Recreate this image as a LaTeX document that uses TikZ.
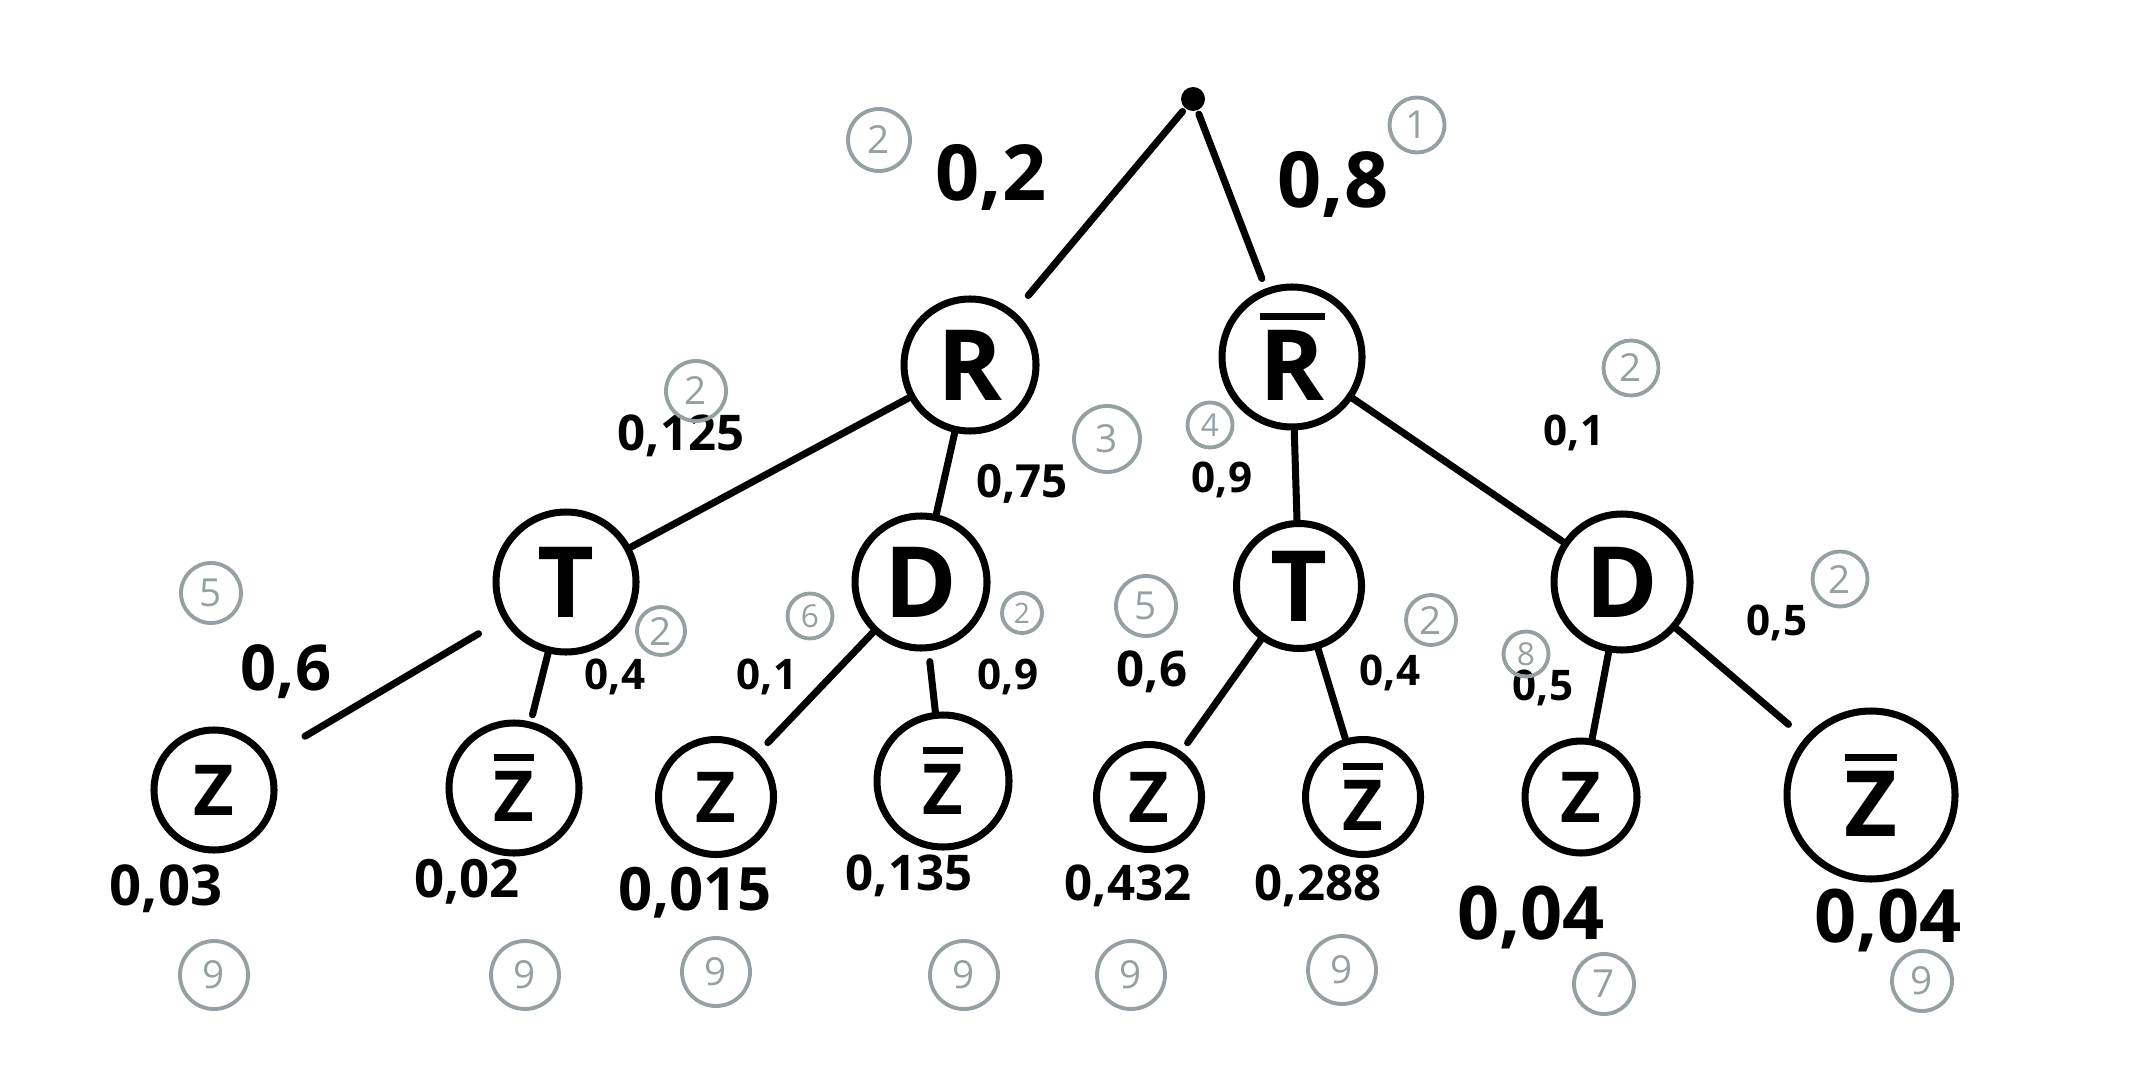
\documentclass[tikz,border=0pt]{standalone}
\usepackage{fontspec}
\setmainfont{Open Sans}
\definecolor{pencil}{RGB}{150,160,163}
\tikzset{
  event/.style={circle, draw, line width=2pt, minimum size=1.32cm, inner sep=0pt,
    font=\fontsize{28}{28}\selectfont\bfseries},
  leaf/.style={event, minimum size=1.2cm, font=\fontsize{20}{20}\selectfont\bfseries},
  branch/.style={line width=2pt, line cap=round},
  prob/.style={inner sep=0pt, font=\fontsize{12}{12}\selectfont\bfseries},
  order/.style={circle, draw=pencil, text=pencil, line width=1.1pt, minimum size=0.6cm,
    inner sep=0pt, font=\fontsize{11}{11}\selectfont}
}
% letter with a thick bar over it
\newcommand{\nbar}[1]{\setbox0\hbox{#1}\vbox{\hrule height 2pt width \wd0 \kern 3pt \box0}}
\begin{document}
\begin{tikzpicture}[x=1cm, y=-1cm, line cap=round, line join=round]
    \useasboundingbox (0,0) rectangle (21.37,10.86);

    % root
    \node[circle, fill, minimum size=0.24cm, inner sep=0pt] (root) at (11.93,0.99) {};

    % first level
    \node[event] (R) at (9.70,3.65) {R};
    \node[event, minimum size=1.4cm] (Rb) at (12.92,3.57) {\nbar{R}};

    % second level
    \node[event, minimum size=1.4cm] (T1) at (5.66,5.82) {T};
    \node[event] (D1) at (9.21,5.82) {D};
    \node[event, minimum size=1.25cm] (T2) at (12.99,5.86) {T};
    \node[event, minimum size=1.36cm] (D2) at (16.22,5.82) {D};

    % leaves
    \node[leaf] (Z1) at (2.14,7.90) {Z};
    \node[leaf, minimum size=1.3cm] (Z2) at (5.14,7.88) {\nbar{Z}};
    \node[leaf, minimum size=1.15cm] (Z3) at (7.16,7.97) {Z};
    \node[leaf, minimum size=1.32cm] (Z4) at (9.43,7.81) {\nbar{Z}};
    \node[leaf, minimum size=1.05cm] (Z5) at (11.49,7.97) {Z};
    \node[leaf, minimum size=1.15cm] (Z6) at (13.63,7.97) {\nbar{Z}};
    \node[leaf, minimum size=1.12cm] (Z7) at (15.81,7.97) {Z};
    \node[leaf, minimum size=1.68cm, font=\fontsize{26}{26}\selectfont\bfseries] (Z8) at (18.71,7.95) {\nbar{Z}};

    % branches
    \draw[branch, shorten <=1pt, shorten >=6pt] (root) -- (R);
    \draw[branch, shorten <=1pt, shorten >=3pt] (root) -- (Rb);
    \draw[branch] (R) -- (T1);
    \draw[branch] (R) -- (D1);
    \draw[branch] (Rb) -- (T2);
    \draw[branch] (Rb) -- (D2);
    \draw[branch, shorten <=8pt, shorten >=12pt] (T1) -- (Z1);
    \draw[branch, shorten >=2pt] (T1) -- (Z2);
    \draw[branch, shorten >=4pt] (D1) -- (Z3);
    \draw[branch, shorten <=3pt] (D1) -- (Z4);
    \draw[branch, shorten >=3pt] (T2) -- (Z5);
    \draw[branch] (T2) -- (Z6);
    \draw[branch] (D2) -- (Z7);
    \draw[branch, shorten >=6pt] (D2) -- (Z8);

    % probabilities
    \node[prob, font=\fontsize{22}{22}\selectfont\bfseries] (p02) at (9.91,1.77) {0,2};
    \node[prob, font=\fontsize{22}{22}\selectfont\bfseries] (p08) at (13.33,1.84) {0,8};
    \node[prob, font=\fontsize{14}{14}\selectfont\bfseries] (p0125) at (6.81,4.36) {0,125};
    \node[prob, font=\fontsize{13}{13}\selectfont\bfseries] (p075) at (10.22,4.84) {0,75};
    \node[prob] (p09r) at (12.22,4.80) {0,9};
    \node[prob] (p01r) at (15.74,4.33) {0,1};
    \node[prob, font=\fontsize{18}{18}\selectfont\bfseries] (p06l) at (2.86,6.72) {0,6};
    \node[prob] (p04l) at (6.15,6.77) {0,4};
    \node[prob] (p01l) at (7.67,6.77) {0,1};
    \node[prob] (p09l) at (10.08,6.77) {0,9};
    \node[prob, font=\fontsize{14}{14}\selectfont\bfseries] (p06r) at (11.52,6.72) {0,6};
    \node[prob] (p04r) at (13.90,6.73) {0,4};
    \node[prob] (p05l) at (15.43,6.88) {0,5};
    \node[prob] (p05r) at (17.77,6.23) {0,5};

    % path probabilities
    \node[prob, font=\fontsize{16}{16}\selectfont\bfseries] (q1) at (1.66,8.89) {0,03};
    \node[prob, font=\fontsize{15}{15}\selectfont\bfseries] (q2) at (4.67,8.82) {0,02};
    \node[prob, font=\fontsize{17}{17}\selectfont\bfseries] (q3) at (6.95,8.93) {0,015};
    \node[prob, font=\fontsize{14}{14}\selectfont\bfseries] (q4) at (9.09,8.76) {0,135};
    \node[prob, font=\fontsize{14}{14}\selectfont\bfseries] (q5) at (11.28,8.86) {0,432};
    \node[prob, font=\fontsize{14}{14}\selectfont\bfseries] (q6) at (13.18,8.86) {0,288};
    \node[prob, font=\fontsize{21}{21}\selectfont\bfseries] (q7) at (15.31,9.17) {0,04};
    \node[prob, font=\fontsize{21}{21}\selectfont\bfseries] (q8) at (18.88,9.20) {0,04};

    % pencil step numbers
    \node[order, minimum size=0.62cm] (o1) at (8.79,1.40) {2};
    \node[order, minimum size=0.55cm] (o2) at (14.17,1.25) {1};
    \node[order] (o3) at (6.96,3.91) {2};
    \node[order, minimum size=0.66cm] (o4) at (11.07,4.39) {3};
    \node[order, minimum size=0.45cm, font=\fontsize{9}{9}\selectfont] (o5) at (12.10,4.25) {4};
    \node[order, minimum size=0.55cm] (o6) at (16.31,3.68) {2};
    \node[order] (o7) at (2.11,5.93) {5};
    \node[order, minimum size=0.48cm] (o8) at (6.61,6.31) {2};
    \node[order, minimum size=0.45cm, font=\fontsize{9}{9}\selectfont] (o9) at (8.10,6.16) {6};
    \node[order, minimum size=0.4cm, font=\fontsize{8}{8}\selectfont] (o10) at (10.22,6.13) {2};
    \node[order] (o11) at (11.46,6.06) {5};
    \node[order, minimum size=0.5cm] (o12) at (14.31,6.20) {2};
    \node[order, minimum size=0.45cm, font=\fontsize{9}{9}\selectfont] (o13) at (15.26,6.54) {8};
    \node[order, minimum size=0.55cm] (o14) at (18.40,5.79) {2};

    % pencil numbers under the leaves
    \node[order, minimum size=0.68cm] (b1) at (2.14,9.75) {9};
    \node[order, minimum size=0.68cm] (b2) at (5.25,9.75) {9};
    \node[order, minimum size=0.68cm] (b3) at (7.16,9.72) {9};
    \node[order, minimum size=0.68cm] (b4) at (9.64,9.75) {9};
    \node[order, minimum size=0.68cm] (b5) at (11.31,9.75) {9};
    \node[order, minimum size=0.68cm] (b6) at (13.42,9.70) {9};
    \node[order, minimum size=0.6cm] (b7) at (16.04,9.84) {7};
    \node[order, minimum size=0.6cm] (b8) at (19.22,9.81) {9};
\end{tikzpicture}
\end{document}
